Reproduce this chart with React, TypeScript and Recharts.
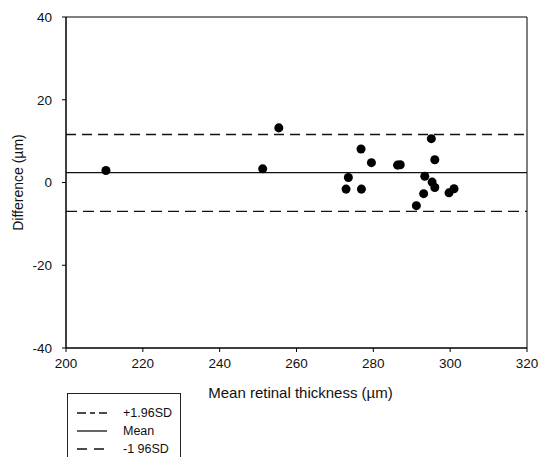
import {
  ScatterChart,
  Scatter,
  XAxis,
  YAxis,
  ZAxis,
  ReferenceLine,
  ReferenceArea,
} from 'recharts'

// mean retinal thickness (µm) vs difference (µm)
const thickness = [210.4, 251.2, 255.4, 272.9, 273.5, 276.8, 276.9, 279.5, 286.3, 287.0, 291.2, 293.1, 293.4, 295.1, 295.3, 296.0, 296.0, 299.7, 301.0]
const difference = [2.9, 3.3, 13.2, -1.6, 1.2, 8.1, -1.6, 4.8, 4.2, 4.3, -5.6, -2.7, 1.5, 10.6, 0.1, 5.5, -1.2, -2.5, -1.5]

const meanLine = 2.4
const upperLimit = 11.6
const lowerLimit = -7.0

const xTicks = [200, 220, 240, 260, 280, 300, 320]
const yTicks = [-40, -20, 0, 20, 40]

const legendItems = [
  { label: '+1.96SD', dash: '9 4 5 4' },
  { label: 'Mean', dash: '' },
  { label: '-1 96SD', dash: '10 7' },
]

const points = thickness.map((x, i) => ({ x, y: difference[i] }))

const FONT = '"Liberation Sans", Arial, sans-serif'
const tickStyle = { fontSize: 13.5, fill: '#111', fontFamily: FONT }

export default function App() {
  return (
    <div style={{ position: 'absolute', left: 0, top: 0, width: 540, height: 457, background: '#fff', fontFamily: FONT }}>
      <ScatterChart width={540} height={457} margin={{ top: 17, right: 13, bottom: 0, left: 0 }}>
        <XAxis
          type="number"
          dataKey="x"
          domain={[200, 320]}
          ticks={xTicks}
          allowDataOverflow
          height={109}
          tickSize={4}
          tickMargin={6}
          tick={tickStyle}
          stroke="#000"
          label={({ viewBox }: any) => (
            <text
              x={viewBox.x + viewBox.width / 2 + 4}
              y={viewBox.y + 50}
              textAnchor="middle"
              fontSize={15}
              fontFamily={FONT}
              fill="#111"
            >
              Mean retinal thickness (µm)
            </text>
          )}
        />
        <YAxis
          type="number"
          dataKey="y"
          domain={[-40, 40]}
          ticks={yTicks}
          allowDataOverflow
          width={66}
          tickSize={4}
          tickMargin={10}
          tick={tickStyle}
          stroke="#000"
          label={({ viewBox }: any) => {
            const cy = viewBox.y + viewBox.height / 2
            return (
              <text
                x={18}
                y={cy}
                transform={`rotate(-90 18 ${cy})`}
                textAnchor="middle"
                dominantBaseline="central"
                fontSize={14}
                fontFamily={FONT}
                fill="#111"
              >
                Difference (µm)
              </text>
            )
          }}
        />
        <ZAxis range={[46, 46]} />
        <ReferenceArea x1={200} x2={320} y1={-40} y2={40} fill="none" stroke="#000" strokeWidth={1} />
        <ReferenceLine y={upperLimit} stroke="#111" strokeWidth={1.3} strokeDasharray="10 6" />
        <ReferenceLine y={meanLine} stroke="#111" strokeWidth={1.3} />
        <ReferenceLine y={lowerLimit} stroke="#111" strokeWidth={1.3} strokeDasharray="11 6" />
        <Scatter data={points} fill="#000" isAnimationActive={false} />
      </ScatterChart>
      <div
        style={{
          position: 'absolute',
          left: 67,
          top: 393,
          width: 114,
          height: 64,
          borderTop: '1px solid #222',
          borderLeft: '1px solid #222',
          borderRight: '1px solid #222',
          boxSizing: 'border-box',
        }}
      >
        {legendItems.map((item, i) => (
          <div
            key={item.label}
            style={{ position: 'absolute', left: 9, top: 10 + i * 18, height: 18, display: 'flex', alignItems: 'center' }}
          >
            <svg width={30} height={4}>
              <line x1={0} y1={2} x2={30} y2={2} stroke="#111" strokeWidth={1.3} strokeDasharray={item.dash || undefined} />
            </svg>
            <span style={{ marginLeft: 16, fontSize: 12.5, color: '#111', whiteSpace: 'nowrap' }}>{item.label}</span>
          </div>
        ))}
      </div>
    </div>
  )
}
